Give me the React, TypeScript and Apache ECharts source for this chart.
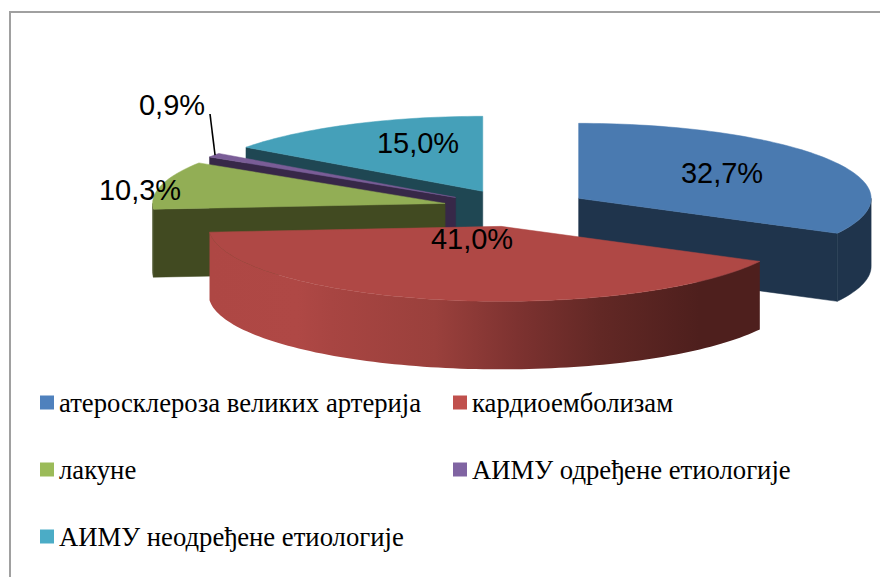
import React, { useEffect, useRef } from "react";
import * as echarts from "echarts";

// Data
const names = [
  "атеросклероза великих артерија",
  "кардиоемболизам",
  "лакуне",
  "АИМУ одређене етиологије",
  "АИМУ неодређене етиологије",
];
const values = [32.7, 41.0, 10.3, 0.9, 15.0];

// Styles
const legendColors = ["#4F81BD", "#C0504D", "#9BBB59", "#8064A2", "#4BACC6"];
const topColors = ["#4A7AB0", "#AF4845", "#92AE55", "#7A5D97", "#45A0B9"];
const sideColors = ["#1F344C", "#4E1F1D", "#414A21", "#372848", "#1F4753"];
const paintOrder = [4, 3, 2, 0, 1]; // back to front

// Layout
const CX = 516;
const CY = 208;
const RX = 292.5;
const RY = 75;
const DEPTH = 68;
const EXPLODE = 0.25;
const labelCenters = [
  [722, 173],
  [472, 239],
  [140, 190],
  [172, 105],
  [418, 143],
];
const leaderStart = [210, 114];
const legendLefts = [40, 453, 40, 453, 40];
const legendTops = [389, 389, 456, 456, 523];

const total = values.reduce((a, b) => a + b, 0);
const rad = (d: number) => (d * Math.PI) / 180;

function sliceAngles(i: number) {
  const before = values.slice(0, i).reduce((a, b) => a + b, 0);
  return [(before / total) * 360, ((before + values[i]) / total) * 360];
}

function apex(i: number) {
  const [a0, a1] = sliceAngles(i);
  const m = rad((a0 + a1) / 2);
  return [CX + EXPLODE * RX * Math.sin(m), CY - EXPLODE * RY * Math.cos(m)];
}

function rim(i: number, deg: number, dy = 0) {
  const [ax, ay] = apex(i);
  return [ax + RX * Math.sin(rad(deg)), ay - RY * Math.cos(rad(deg)) + dy];
}

function arcPoints(i: number, from: number, to: number, dy = 0) {
  const n = Math.max(2, Math.ceil(Math.abs(to - from) / 1.5));
  const pts: number[][] = [];
  for (let k = 0; k <= n; k++) pts.push(rim(i, from + ((to - from) * k) / n, dy));
  return pts;
}

const redWall = () =>
  new echarts.graphic.LinearGradient(0, 0, 1, 0, [
    { offset: 0, color: "#AE4744" },
    { offset: 0.16, color: "#AF4845" },
    { offset: 0.22, color: "#A84542" },
    { offset: 0.41, color: "#9A403C" },
    { offset: 0.56, color: "#7D3230" },
    { offset: 0.71, color: "#622825" },
    { offset: 0.89, color: "#4E1F1D" },
    { offset: 1, color: "#4E1F1D" },
  ]);

function renderSlice(i: number) {
  const [a0, a1] = sliceAngles(i);
  const [ax, ay] = apex(i);
  const children: any[] = [];
  const side = sideColors[i];
  const poly = (points: number[][], fill: any) => ({
    type: "polygon",
    shape: { points },
    style: { fill, stroke: typeof fill === "string" ? fill : undefined, lineWidth: typeof fill === "string" ? 0.5 : 0 },
  });
  // cut faces turned towards the viewer
  if (a0 > 180 && a0 < 360) {
    children.push(poly([[ax, ay], rim(i, a0), rim(i, a0, DEPTH), [ax, ay + DEPTH]], side));
  }
  if (a1 > 0 && a1 < 180) {
    children.push(poly([[ax, ay], rim(i, a1), rim(i, a1, DEPTH), [ax, ay + DEPTH]], side));
  }
  // outer wall, front half of the ellipse only
  const w0 = Math.max(a0, 90);
  const w1 = Math.min(a1, 270);
  if (w1 > w0) {
    const upper = arcPoints(i, w0, w1);
    const lower = arcPoints(i, w1, w0, DEPTH);
    children.push(poly([...upper, ...lower], i === 1 ? redWall() : side));
  }
  // top face
  children.push(poly([[ax, ay], ...arcPoints(i, a0, a1)], topColors[i]));
  // leader line of the thin slice
  if (values[i] < 2) {
    const end = rim(i, (a0 + a1) / 2);
    children.push({
      type: "line",
      shape: { x1: leaderStart[0], y1: leaderStart[1], x2: end[0] + 1, y2: end[1] },
      style: { stroke: "#000", lineWidth: 1.6 },
    });
  }
  return { type: "group", children };
}

const fmt = (v: number) => v.toFixed(1).replace(".", ",") + "%";

export default function App() {
  const ref = useRef<HTMLDivElement>(null);
  useEffect(() => {
    const chart = echarts.init(ref.current!, null, { renderer: "svg" });
    chart.setOption({
      animation: false,
      backgroundColor: "#fff",
      series: names.map((name, i) => ({
        type: "custom",
        name,
        coordinateSystem: "none",
        silent: true,
        z: 2 + paintOrder.indexOf(i),
        itemStyle: { color: legendColors[i] },
        data: [[values[i]]],
        renderItem: () => renderSlice(i),
      })),
      legend: names.map((name, i) => ({
        left: legendLefts[i],
        top: legendTops[i],
        padding: 0,
        selectedMode: false,
        itemWidth: 14,
        itemHeight: 14,
        icon: "rect",
        textStyle: {
          fontFamily: "Liberation Serif",
          fontSize: 26.7,
          color: "#000",
        },
        data: [{ name, itemStyle: { color: legendColors[i] } }],
      })),
      graphic: [
        {
          type: "polyline",
          z: 0,
          shape: { points: [[10, 577], [10, 12], [880, 12]] },
          style: { stroke: "#A0A0A0", lineWidth: 2, fill: "none" },
        },
        ...values.map((v, i) => ({
          type: "text",
          z: 100,
          x: labelCenters[i][0],
          y: labelCenters[i][1],
          style: {
            text: fmt(v),
            fontFamily: "Liberation Sans",
            fontSize: 29,
            fill: "#000",
            align: "center",
            verticalAlign: "middle",
          },
        })),
      ],
    });
    return () => chart.dispose();
  }, []);
  return (
    <div
      ref={ref}
      style={{ position: "absolute", left: 0, top: 0, width: 880, height: 577 }}
    />
  );
}
